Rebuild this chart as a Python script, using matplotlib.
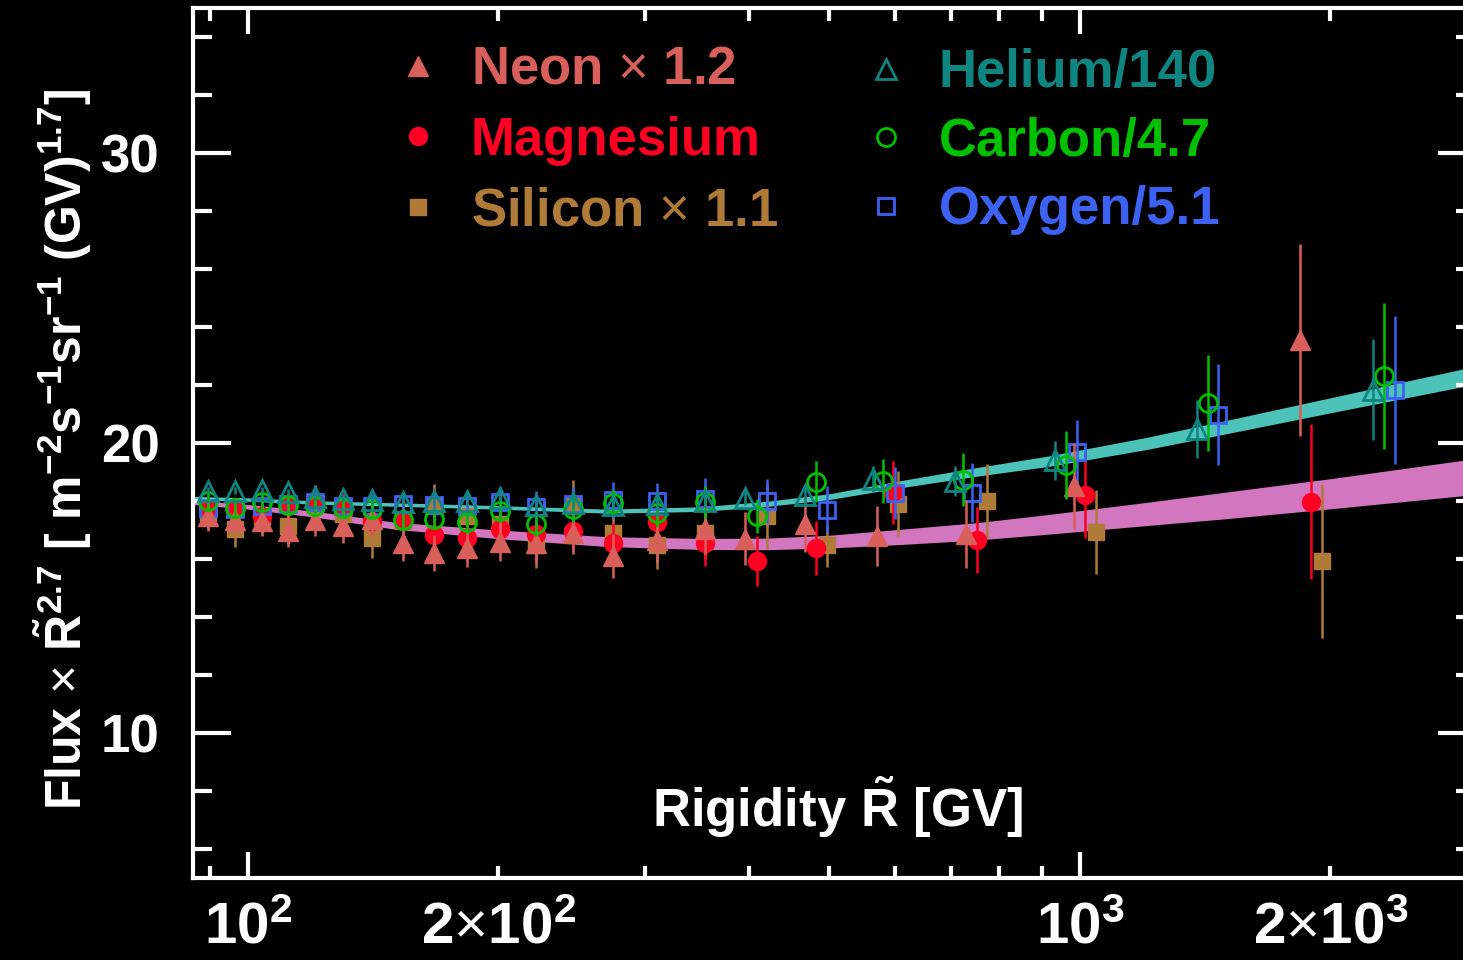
import matplotlib
matplotlib.use("Agg")
import matplotlib.pyplot as plt
from matplotlib import font_manager
from matplotlib.lines import Line2D


def pick_font(names):
    for n in names:
        try:
            font_manager.findfont(n, fallback_to_default=False)
            return n
        except Exception:
            pass
    return "DejaVu Sans"


SANS = pick_font(["Liberation Sans", "Arial"])
NARROW = pick_font(["Liberation Sans Narrow", "Liberation Sans"])

plt.rcParams["font.family"] = [SANS, "DejaVu Sans"]
plt.rcParams["font.weight"] = "bold"
plt.rcParams["mathtext.fontset"] = "custom"
plt.rcParams["mathtext.rm"] = SANS + ":weight=normal"
plt.rcParams["mathtext.bf"] = SANS + ":weight=bold"
plt.rcParams["mathtext.default"] = "regular"

# ---- data (rigidity in GV, flux x R^2.7 scaled) ----
low_r = [89.5, 96.5, 103.9, 111.7, 120.4, 130.1, 140.9, 153.6, 167.3, 183.4,
         200.9, 221.9, 245.9, 274.6, 310.1, 354.2]

he_r = low_r + [395.7, 467.2, 563.9, 707.7, 933.2, 1383, 2250]
he_y = [18.36, 18.36, 18.38, 18.3, 18.15, 18.08, 18.05, 17.98, 18.0, 18.0,
        18.1, 17.85, 17.93, 17.85, 17.9, 18.0, 18.1, 18.22, 18.76, 18.7,
        19.41, 20.48, 21.83]
he_e = [0.12, 0.12, 0.12, 0.12, 0.12, 0.12, 0.13, 0.13, 0.14, 0.15, 0.15,
        0.16, 0.17, 0.18, 0.2, 0.22, 0.25, 0.35, 0.45, 0.52, 0.67, 1.0, 1.74]

c_r = low_r + [409.1, 481.6, 579.8, 723.5, 962.1, 1425, 2319]
c_y = [18.0, 17.76, 17.95, 17.86, 17.83, 17.76, 17.72, 17.36, 17.38, 17.27,
       17.67, 17.2, 17.72, 17.93, 17.6, 17.97, 17.48, 18.67, 18.7, 18.74,
       19.24, 21.38, 22.31]
c_e = [0.3, 0.3, 0.3, 0.3, 0.3, 0.32, 0.33, 0.35, 0.36, 0.38, 0.4, 0.42,
       0.45, 0.45, 0.5, 0.55, 0.6, 0.7, 0.76, 0.92, 1.17, 1.65, 2.53]

o_r = low_r + [420.6, 496.5, 599.4, 741.8, 991.7, 1465, 2391]
o_y = [17.76, 17.72, 17.84, 17.9, 17.97, 17.84, 17.84, 17.9, 17.85, 17.83,
       17.96, 17.79, 17.9, 18.05, 18.0, 18.07, 18.0, 17.7, 18.28, 18.28,
       19.69, 20.97, 21.83]
o_e = [0.3, 0.3, 0.32, 0.34, 0.36, 0.38, 0.4, 0.42, 0.45, 0.48, 0.52, 0.55,
       0.58, 0.62, 0.62, 0.72, 0.76, 0.82, 0.89, 1.02, 1.12, 1.74, 2.55]

ne_r = low_r + [395.7, 467.2, 570.2, 729.6, 983.5, 1838]
ne_y = [17.48, 17.35, 17.32, 16.96, 17.35, 17.13, 17.38, 16.55, 16.2, 16.38,
        16.6, 16.55, 16.9, 16.1, 16.66, 17.03, 16.7, 17.2, 16.8, 16.86,
        18.52, 23.55]
ne_e = [0.5, 0.5, 0.52, 0.55, 0.55, 0.57, 0.58, 0.62, 0.63, 0.65, 0.67, 0.7,
        0.72, 0.75, 0.8, 0.85, 0.92, 0.97, 1.03, 1.18, 1.48, 3.3]

mg_r = low_r + [409.1, 481.6, 596.1, 752.1, 1014, 1895]
mg_y = [17.72, 17.7, 17.5, 17.84, 17.97, 17.8, 17.32, 17.32, 16.83, 16.72,
        17.03, 16.86, 16.97, 16.55, 17.27, 16.55, 15.94, 16.38, 18.3, 16.66,
        18.2, 17.97]
mg_e = [0.4, 0.4, 0.42, 0.44, 0.45, 0.47, 0.5, 0.52, 0.55, 0.57, 0.6, 0.62,
        0.65, 0.68, 0.72, 0.78, 0.86, 0.94, 1.09, 1.15, 1.47, 2.67]

si_r = low_r + [420.6, 496.5, 604.4, 773.2, 1045, 1954]
si_y = [17.6, 17.03, 17.45, 17.14, 17.9, 17.55, 16.72, 17.3, 17.84, 17.5,
        17.2, 16.5, 17.83, 16.9, 16.5, 16.9, 17.48, 16.47, 17.9, 18.0,
        16.93, 15.93]
si_e = [0.55, 0.6, 0.6, 0.62, 0.65, 0.65, 0.7, 0.7, 0.75, 0.75, 0.78, 0.8,
        0.9, 0.8, 0.85, 0.9, 1.12, 0.75, 1.12, 1.28, 1.46, 2.65]

# fitted bands
band_r = [86, 100, 120, 150, 200, 270, 350, 420, 500, 600, 750, 920, 1200,
          1500, 2000, 3000]
heco_mid = [18.1, 18.05, 17.95, 17.88, 17.78, 17.65, 17.72, 17.9, 18.15,
            18.55, 19.0, 19.38, 19.98, 20.55, 21.3, 22.35]
heco_hw = [0.06, 0.06, 0.06, 0.06, 0.06, 0.07, 0.08, 0.09, 0.1, 0.12, 0.15,
           0.18, 0.21, 0.23, 0.26, 0.31]
nemgsi_mid = [17.95, 17.8, 17.55, 17.15, 16.85, 16.6, 16.52, 16.52, 16.6,
              16.75, 16.95, 17.2, 17.55, 17.85, 18.25, 18.85]
nemgsi_hw = [0.07, 0.08, 0.1, 0.12, 0.15, 0.17, 0.19, 0.2, 0.22, 0.26, 0.3,
             0.34, 0.4, 0.46, 0.52, 0.62]

x_major = [100, 1000]
x_major_labels = [r"$10^{2}$", r"$10^{3}$"]
x_minor = [90, 200, 300, 400, 500, 600, 700, 800, 900, 2000]
x_minor_labels = ["", r"$2\mathrm{\times}10^{2}$", "", "", "", "", "", "", "",
                  r"$2\mathrm{\times}10^{3}$"]
y_major = [10, 20, 30]
y_minor = [6, 8, 12, 14, 16, 18, 22, 24, 26, 28, 32, 34]

NE = "#d95f5b"
MG = "#ff0022"
SI = "#b07b38"
HE = "#0e8580"
C = "#00c000"
O = "#3b62f2"
CYAN = "#4cc2b8"
PINK = "#d276c0"

fig = plt.figure(figsize=(14.63, 9.6), dpi=100, facecolor="black")
ax = fig.add_axes([193 / 1463, 82 / 960, 1282 / 1463, 870 / 960])
ax.set_facecolor("black")

ax.fill_between(band_r, [m - h for m, h in zip(nemgsi_mid, nemgsi_hw)],
                [m + h for m, h in zip(nemgsi_mid, nemgsi_hw)],
                color=PINK, lw=0, zorder=1)
ax.fill_between(band_r, [m - h for m, h in zip(heco_mid, heco_hw)],
                [m + h for m, h in zip(heco_mid, heco_hw)],
                color=CYAN, lw=0, zorder=1)

eb = dict(ls="none", capsize=0, elinewidth=1.8)
ax.errorbar(si_r, si_y, yerr=si_e, fmt="s", color=SI, ms=12, zorder=3, **eb)
ax.errorbar(mg_r, mg_y, yerr=mg_e, fmt="o", color=MG, ms=13, zorder=4, **eb)
ax.errorbar(o_r, o_y, yerr=o_e, fmt="s", color=O, ms=12, mfc="none", mew=2,
            zorder=5, **eb)
ax.errorbar(ne_r, ne_y, yerr=ne_e, fmt="^", color=NE, ms=14, zorder=6, **eb)
ax.errorbar(c_r, c_y, yerr=c_e, fmt="o", color=C, ms=13, mfc="none", mew=2,
            zorder=7, **eb)
ax.errorbar(he_r, he_y, yerr=he_e, fmt="^", color=HE, ms=15, mfc="none",
            mew=2, zorder=8, **eb)

ax.set_xscale("log")
ax.set_xlim(85.9, 2984)
ax.set_ylim(5, 35)

ax.set_xticks(x_major, labels=x_major_labels)
ax.set_xticks(x_minor, labels=x_minor_labels, minor=True)
ax.set_yticks(y_major, labels=[str(v) for v in y_major])
ax.set_yticks(y_minor, minor=True)

ax.tick_params(axis="both", which="both", direction="in", top=True,
               right=True, colors="white", width=3)
ax.tick_params(axis="x", which="major", length=19, pad=17)
ax.tick_params(axis="x", which="minor", length=9, pad=17)
ax.tick_params(axis="y", which="major", length=27, pad=24)
ax.tick_params(axis="y", which="minor", length=14)

for lab in ax.get_xticklabels(which="both"):
    lab.set_fontfamily(NARROW)
    lab.set_fontsize(42)
    lab.set_fontweight("bold")
for lab in ax.get_yticklabels():
    lab.set_fontsize(38)
    lab.set_fontweight("bold")

for side in ["left", "bottom", "top"]:
    ax.spines[side].set_color("white")
    ax.spines[side].set_linewidth(3)
ax.spines["right"].set_visible(False)

ax.set_ylabel(r"Flux $\mathrm{\times}$ $\tilde{R}^{2.7}$ [ m$^{-2}$s$^{-1}$sr$^{-1}$ (GV)$^{1.7}$]",
              fontsize=36, color="white", fontweight="bold")
ax.yaxis.set_label_coords(-0.077, 0.493)
ax.set_xlabel(r"Rigidity $\tilde{R}$ [GV]", fontsize=38, color="white",
              fontweight="bold")
ax.xaxis.set_label_coords(0.503, 0.119)

leg_kw = dict(loc="upper left", frameon=False, fontsize=38, handlelength=0.8,
              handletextpad=0.6, borderpad=0, borderaxespad=0, numpoints=1)
h1 = [Line2D([], [], ls="none", marker="^", ms=14, color=NE),
      Line2D([], [], ls="none", marker="o", ms=13, color=MG),
      Line2D([], [], ls="none", marker="s", ms=12, color=SI)]
leg1 = ax.legend(h1, [r"Neon $\mathrm{\times}$ 1.2", "Magnesium",
                      r"Silicon $\mathrm{\times}$ 1.1"],
                 bbox_to_anchor=(0.159, 0.9575), labelspacing=0.39, **leg_kw)
for t, col in zip(leg1.get_texts(), [NE, MG, SI]):
    t.set_color(col)
ax.add_artist(leg1)

h2 = [Line2D([], [], ls="none", marker="^", ms=15, color=HE, mfc="none", mew=2),
      Line2D([], [], ls="none", marker="o", ms=13, color=C, mfc="none", mew=2),
      Line2D([], [], ls="none", marker="s", ms=12, color=O, mfc="none", mew=2)]
leg2 = ax.legend(h2, ["Helium/140", "Carbon/4.7", "Oxygen/5.1"],
                 bbox_to_anchor=(0.524, 0.9535), labelspacing=0.35, **leg_kw)
for t, col in zip(leg2.get_texts(), [HE, C, O]):
    t.set_color(col)

fig.savefig("out.png", dpi=100, facecolor="black")
